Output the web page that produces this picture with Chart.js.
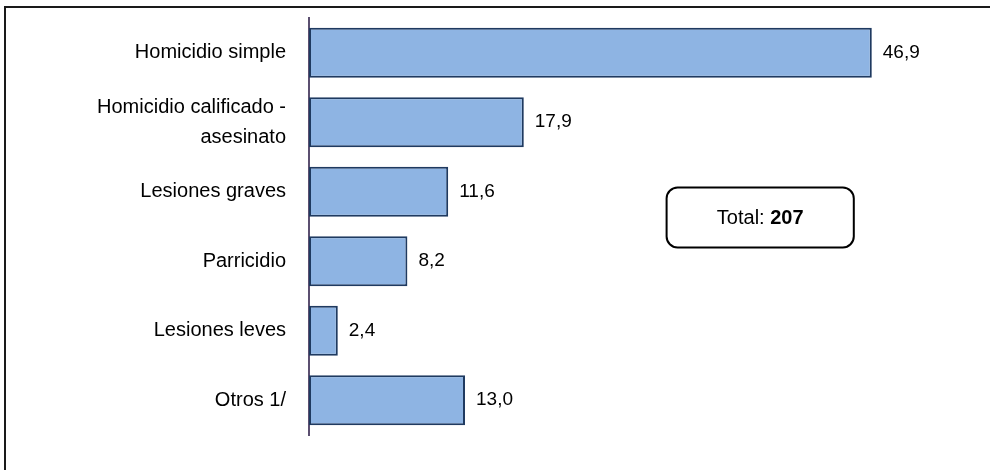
<!DOCTYPE html>
<html>
<head>
<meta charset="utf-8">
<script src="https://cdn.jsdelivr.net/npm/chart.js@4"></script>
<style>
  html, body { margin: 0; padding: 0; background: #fff; }
  #wrap { width: 990px; height: 470px; position: relative; }
</style>
</head>
<body>
<div id="wrap"><canvas id="chart"></canvas></div>
<script>
/* ---------- DATA ---------- */
const categories = [
  "Homicidio simple",
  ["Homicidio calificado -", "asesinato"],
  "Lesiones graves",
  "Parricidio",
  "Lesiones leves",
  "Otros 1/"
];
const percentages = [46.9, 17.9, 11.6, 8.2, 2.4, 13.0];
const totalLabel = "Total: ";
const totalValue = "207";

const FONT = "'Liberation Sans', Arial, sans-serif";

/* ---------- PLUGINS ---------- */
const decorations = {
  id: "decorations",
  beforeDraw(chart) {
    const c = chart.ctx;
    c.save();
    // frame (top + left edges only visible)
    c.strokeStyle = "#1a1a1a";
    c.lineWidth = 2;
    c.beginPath();
    c.moveTo(5, 470);
    c.lineTo(5, 7);
    c.lineTo(990, 7);
    c.stroke();
    c.restore();
  },
  afterDatasetsDraw(chart) {
    const c = chart.ctx;
    const xs = chart.scales.x;
    const ys = chart.scales.y;
    const meta = chart.getDatasetMeta(0);

    c.save();
    // value labels
    c.fillStyle = "#000";
    c.font = "19px " + FONT;
    c.textAlign = "left";
    c.textBaseline = "middle";
    meta.data.forEach((bar, i) => {
      const txt = percentages[i].toFixed(1).replace(".", ",");
      c.fillText(txt, bar.x + 11, bar.y);
    });

    // total box
    const left = xs.getPixelForValue(29.8);
    const right = xs.getPixelForValue(45.4);
    const cy = ys.getPixelForValue(2.37);
    const h = 60;
    c.beginPath();
    c.roundRect(left, cy - h / 2, right - left, h, 11);
    c.fillStyle = "#fff";
    c.fill();
    c.lineWidth = 2;
    c.strokeStyle = "#000";
    c.stroke();

    c.fillStyle = "#000";
    c.textBaseline = "middle";
    c.font = "20px " + FONT;
    const w1 = c.measureText(totalLabel).width;
    c.font = "bold 20px " + FONT;
    const w2 = c.measureText(totalValue).width;
    const tx = (left + right) / 2 - (w1 + w2) / 2;
    c.textAlign = "left";
    c.font = "20px " + FONT;
    c.fillText(totalLabel, tx, cy + 1);
    c.font = "bold 20px " + FONT;
    c.fillText(totalValue, tx + w1, cy + 1);
    c.restore();
  }
};

/* ---------- CHART ---------- */
new Chart(document.getElementById("chart"), {
  type: "bar",
  data: {
    labels: categories,
    datasets: [{
      data: percentages,
      backgroundColor: "#8EB4E3",
      borderColor: "#1F3A60",
      borderWidth: 2,
      borderSkipped: false,
      barPercentage: 0.72,
      categoryPercentage: 1
    }]
  },
  options: {
    indexAxis: "y",
    responsive: true,
    maintainAspectRatio: false,
    animation: false,
    layout: { padding: { top: 18, bottom: 35, right: 21, left: 0 } },
    plugins: {
      legend: { display: false },
      tooltip: { enabled: false }
    },
    scales: {
      x: {
        display: false,
        min: 0,
        max: 55
      },
      y: {
        afterFit(scale) {
          scale.width = 309;
          scale.paddingTop = 0;
          scale.paddingBottom = 0;
        },
        grid: { display: false, drawTicks: false },
        border: { display: true, color: "#5B4F70", width: 2 },
        ticks: {
          color: "#000",
          padding: 23,
          font: { family: FONT, size: 20, lineHeight: 1.5 }
        }
      }
    }
  },
  plugins: [decorations]
});
</script>
</body>
</html>
